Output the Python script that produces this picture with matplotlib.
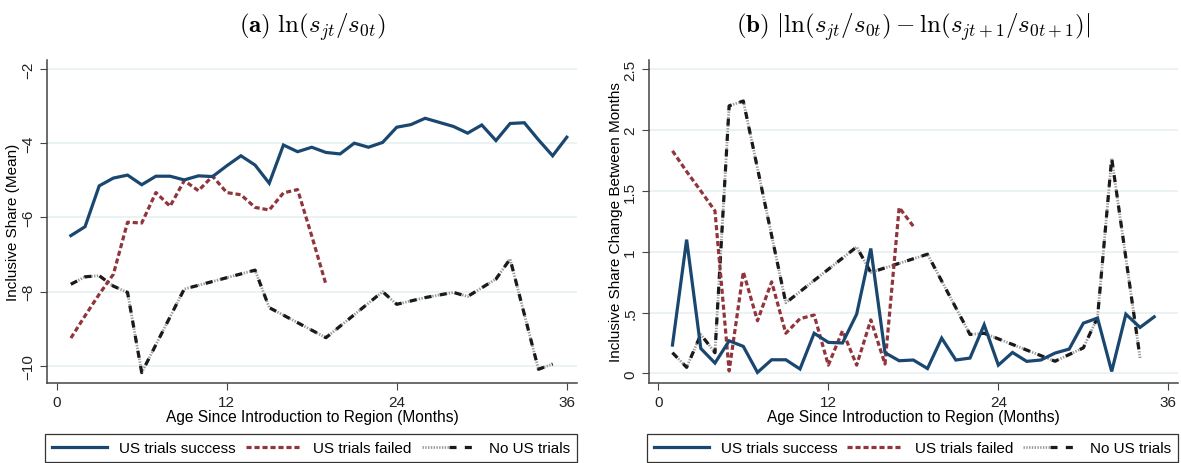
import matplotlib

matplotlib.use("Agg")
import matplotlib.pyplot as plt
from matplotlib.legend_handler import HandlerTuple

plt.rcParams["font.family"] = ["Liberation Sans", "DejaVu Sans"]
plt.rcParams["mathtext.fontset"] = "cm"

BLUE = "#1a476f"
RED = "#90353b"
GRID = "#e9f1f3"
SPINE = "#444444"

# ---- panel (a): ln(s_jt / s_0t), mean by age ----
months_success = list(range(1, 37))
level_success = [-6.49, -6.25, -5.15, -4.94, -4.86, -5.12, -4.89, -4.89, -4.99, -4.88,
                 -4.90, -4.61, -4.34, -4.59, -5.08, -4.05, -4.23, -4.11, -4.25, -4.29,
                 -4.00, -4.11, -3.98, -3.57, -3.50, -3.33, -3.44, -3.55, -3.73, -3.51,
                 -3.93, -3.47, -3.45, -3.91, -4.34, -3.84]

months_failed = list(range(1, 20))
level_failed = [-9.25, -8.65, -8.07, -7.53, -6.13, -6.15, -5.33, -5.70, -5.01, -5.28,
                -4.89, -5.33, -5.39, -5.73, -5.80, -5.34, -5.25, -6.50, -7.80]

months_none = [1, 2, 3, 4, 5, 6, 9, 14, 15, 19, 23, 24, 26, 28, 29, 31, 32, 34, 35]
level_none = [-7.80, -7.60, -7.57, -7.85, -8.02, -10.18, -7.93, -7.42, -8.43, -9.24,
              -8.00, -8.34, -8.16, -8.02, -8.13, -7.66, -7.12, -10.09, -9.95]

# ---- panel (b): month-to-month absolute change ----
chg_months_success = list(range(1, 36))
chg_success = [0.233, 1.10, 0.205, 0.085, 0.268, 0.222, 0.008, 0.112, 0.112, 0.036,
               0.33, 0.255, 0.25, 0.487, 1.027, 0.17, 0.104, 0.11, 0.04, 0.29,
               0.11, 0.126, 0.40, 0.068, 0.172, 0.099, 0.11, 0.167, 0.20, 0.413,
               0.455, 0.016, 0.487, 0.378, 0.465]

chg_months_failed = list(range(1, 19))
chg_failed = [1.83, 1.66, 1.50, 1.336, 0.02, 0.835, 0.433, 0.753, 0.33, 0.45,
              0.48, 0.068, 0.35, 0.068, 0.44, 0.077, 1.364, 1.21]

chg_months_none = [1, 2, 3, 4, 5, 6, 9, 14, 15, 19, 22, 23, 28, 30, 31, 32, 34]
chg_none = [0.17, 0.05, 0.32, 0.17, 2.20, 2.24, 0.58, 1.04, 0.83, 0.98,
            0.32, 0.33, 0.10, 0.21, 0.46, 1.77, 0.13]

x_ticks = [0, 12, 24, 36]
a_ticks = [-10, -8, -6, -4, -2]
b_ticks = [0, 0.5, 1, 1.5, 2, 2.5]
b_tick_labels = ["0", ".5", "1", "1.5", "2", "2.5"]
series_names = ["US trials success", "US trials failed", "No US trials"]


def draw_panel(ax, xs, ys, title, ylabel, yticks, yticklabels, xlim, ylim):
    s, = ax.plot(xs[0], ys[0], color=BLUE, lw=2.3, solid_joinstyle="miter", zorder=4)
    f, = ax.plot(xs[1], ys[1], color=RED, lw=2.3, linestyle=(0, (1.6, 0.9)), zorder=3)
    g, = ax.plot(xs[2], ys[2], color="#9a9a9a", lw=2.0, linestyle=(0, (0.5, 0.5)), zorder=2)
    k, = ax.plot(xs[2], ys[2], color="#1a1a1a", lw=2.3, linestyle=(0, (2.2, 2.6)), zorder=2)

    ax.set_xlim(*xlim)
    ax.set_ylim(*ylim)
    ax.set_xticks(x_ticks)
    ax.set_yticks(yticks)
    ax.set_yticklabels(yticklabels, rotation=90, va="center")
    ax.tick_params(axis="both", labelsize=11, length=5, color=SPINE, labelcolor="#222222")
    ax.grid(axis="y", color=GRID, lw=1.3)
    ax.set_axisbelow(True)
    for side in ("top", "right"):
        ax.spines[side].set_visible(False)
    for side in ("left", "bottom"):
        ax.spines[side].set_color(SPINE)
        ax.spines[side].set_linewidth(1.1)

    ax.set_xlabel("Age Since Introduction to Region (Months)", fontsize=11.2, labelpad=0)
    ax.set_ylabel(ylabel, fontsize=11, labelpad=0)
    ax.yaxis.set_label_coords(-0.050, 0.5)
    ax.set_title(title, fontsize=18, pad=20)

    leg = ax.legend([s, f, (g, k)], series_names,
                    handler_map={tuple: HandlerTuple(ndivide=None, pad=0)},
                    loc="lower left", bbox_to_anchor=(-0.004, -0.245, 1.004, 0.1),
                    mode="expand", ncol=3, fontsize=11, handlelength=3.6,
                    fancybox=False, framealpha=1, edgecolor="#333333",
                    borderpad=0.45, borderaxespad=0)
    leg.get_frame().set_linewidth(0.9)


fig = plt.figure(figsize=(11.81, 4.64), dpi=100)
ax_a = fig.add_axes([47 / 1181, 80 / 464, 530 / 1181, 323 / 464])
ax_b = fig.add_axes([649 / 1181, 80 / 464, 529 / 1181, 323 / 464])

draw_panel(ax_a,
           [months_success, months_failed, months_none],
           [level_success, level_failed, level_none],
           r"$\mathbf{(a)}\ \ln(s_{jt}/s_{0t})$",
           "Inclusive Share (Mean)",
           a_ticks, ["\u221210", "\u22128", "\u22126", "\u22124", "\u22122"],
           (-0.685, 36.72), (-10.46, -1.76))

draw_panel(ax_b,
           [chg_months_success, chg_months_failed, chg_months_none],
           [chg_success, chg_failed, chg_none],
           r"$\mathbf{(b)}\ |\ln(s_{jt}/s_{0t})-\ln(s_{jt+1}/s_{0t+1})|$",
           "Inclusive Share Change Between Months",
           b_ticks, b_tick_labels,
           (-0.656, 36.68), (-0.079, 2.577))

fig.savefig("out.png", dpi=100)
